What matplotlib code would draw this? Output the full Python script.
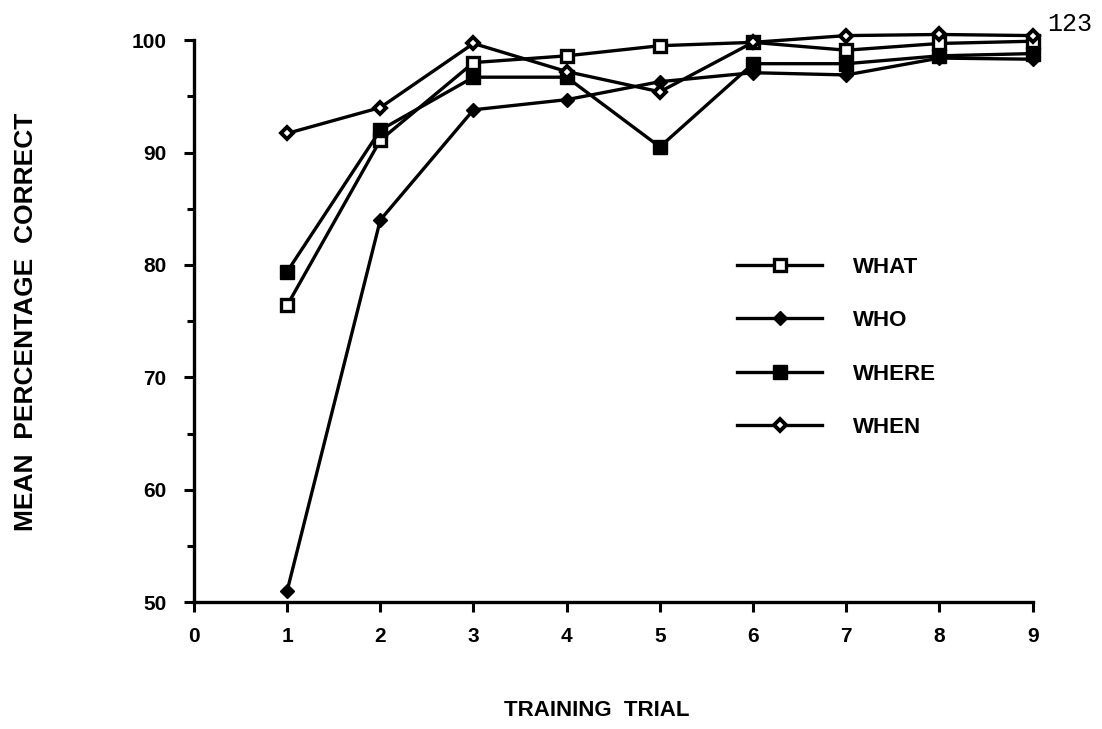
import matplotlib
matplotlib.use("Agg")
import matplotlib.pyplot as plt
from matplotlib.ticker import MultipleLocator

# training trials 1..9
trials = [1, 2, 3, 4, 5, 6, 7, 8, 9]

what_vals = [76.4, 91.1, 98.0, 98.6, 99.5, 99.8, 99.1, 99.7, 99.9]
who_vals = [51.0, 84.0, 93.8, 94.7, 96.3, 97.1, 96.9, 98.4, 98.3]
where_vals = [79.4, 92.0, 96.7, 96.7, 90.5, 97.9, 97.9, 98.6, 98.8]
when_vals = [91.7, 94.0, 99.7, 97.2, 95.4, 99.8, 100.4, 100.5, 100.4]

labels = ['WHAT', 'WHO', 'WHERE', 'WHEN']

plt.rcParams['font.family'] = ['Liberation Sans', 'DejaVu Sans']

fig = plt.figure(figsize=(11.02, 7.29), dpi=100)
ax = fig.add_axes([0.176, 0.174, 0.761, 0.771])

lw = 2.4
ax.plot(trials, what_vals, color='black', lw=lw, marker='s', ms=8.5, mfc='white',
        mec='black', mew=2.4, label=labels[0], clip_on=False, zorder=3)
ax.plot(trials, who_vals, color='black', lw=lw, marker='D', ms=7.5, mfc='black',
        mec='black', label=labels[1], clip_on=False, zorder=3)
ax.plot(trials, where_vals, color='black', lw=lw, marker='s', ms=9.5, mfc='black',
        mec='black', label=labels[2], clip_on=False, zorder=3)
ax.plot(trials, when_vals, color='black', lw=lw, marker='D', ms=6.5, mfc='white',
        mec='black', mew=2.8, label=labels[3], clip_on=False, zorder=3)

ax.set_xlim(0, 9)
ax.set_ylim(50, 100)
ax.xaxis.set_major_locator(MultipleLocator(1))
ax.yaxis.set_major_locator(MultipleLocator(10))
ax.yaxis.set_minor_locator(MultipleLocator(5))

for s in ['top', 'right']:
    ax.spines[s].set_visible(False)
for s in ['left', 'bottom']:
    ax.spines[s].set_linewidth(2.4)

ax.tick_params(axis='both', which='major', direction='out', length=7, width=2.2,
               labelsize=15)
ax.tick_params(axis='x', which='major', pad=11)
ax.tick_params(axis='y', which='major', pad=13)
ax.tick_params(axis='y', which='minor', direction='out', length=5, width=2.2)
for t in ax.get_xticklabels() + ax.get_yticklabels():
    t.set_fontweight('bold')

ax.set_xlabel('TRAINING  TRIAL', fontsize=16, fontweight='bold', va='center', ha='center')
ax.xaxis.set_label_coords(0.48, -0.192)
ax.set_ylabel('MEAN  PERCENTAGE  CORRECT', fontsize=19, fontweight='bold',
              va='center', ha='center')
ax.yaxis.set_label_coords(-0.2, 0.498)

leg = ax.legend(loc='upper left', bbox_to_anchor=(0.624, 0.65), frameon=False,
                fontsize=16, handlelength=3.83, labelspacing=1.46, handletextpad=1.4)
for txt in leg.get_texts():
    txt.set_fontweight('bold')

fig.text(1047 / 1102, 1 - 24 / 729, '123', fontsize=18, family='Liberation Mono',
         ha='left', va='center')

fig.savefig('out.png', dpi=100)
